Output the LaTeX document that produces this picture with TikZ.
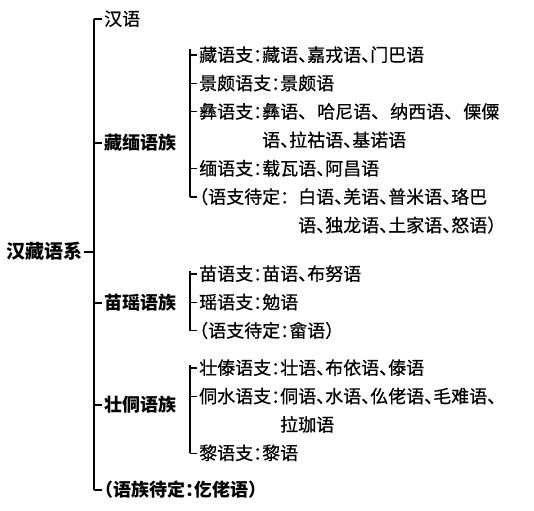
\documentclass[tikz,border=0pt]{standalone}
\usepackage{fontspec}
\newfontfamily\cjk[RawFeature=+halt, FakeBold=0.5]{Noto Sans CJK SC}
\newfontfamily\cjkb[RawFeature=+halt]{Noto Sans CJK SC}
\usetikzlibrary{positioning}

\begin{document}
\begin{tikzpicture}
    [x=1pt, y=-1pt, node distance=10pt,
      every node/.style={inner xsep=2pt, inner ysep=0pt, anchor=west,
        text height=15.5pt, text depth=2.5pt, font=\cjk\fontsize{18}{22}\selectfont},
      family/.style={font=\cjkb\bfseries\fontsize{18}{22}\selectfont},
      root/.style={font=\cjkb\bfseries\fontsize{19}{22}\selectfont},
      under/.style={below=of #1.south west, anchor=north west},
      line/.style={line width=1.1pt}]
    \useasboundingbox (0,0) rectangle (534,510);
    \coordinate (trunk) at (94,0);
    \coordinate (fork) at (190,0);
    % 语系
    \node[root] (xi) at (4,252) {汉藏语系};
    % 语族
    \node (han) at (102,19) {汉语};
    \node[family] (zangmian) at (102,143) {藏缅语族};
    \node[family] (miaoyao) at (102,303) {苗瑶语族};
    \node[family] (zhuangdong) at (102,405) {壮侗语族};
    \node[family] (zudaiding) at (102,490) {（语族待定：仡佬语）};
    % 藏缅语族
    \node (zang) at (197,55) {藏语支：藏语、嘉戎语、门巴语};
    \node[under=zang] (jingpo) {景颇语支：景颇语};
    \node[under=jingpo] (yi) {彝语支：彝语、\hspace{10pt}哈尼语、\hspace{10pt}纳西语、\hspace{10pt}傈僳};
    \node[under=yi] (yi2) {\phantom{彝语支：}语、拉祜语、基诺语};
    \node[under=yi2] (mian) {缅语支：载瓦语、阿昌语};
    \node[under=mian] (zmdaiding) {（语支待定：\hspace{9pt}白语、羌语、普米语、珞巴};
    \node[under=zmdaiding] (zmdaiding2) {\phantom{（语支待定：\hspace{9pt}}语、独龙语、土家语、怒语）};
    % 苗瑶语族
    \node (miao) at (197,274) {苗语支：苗语、布努语};
    \node[under=miao] (yao) {瑶语支：勉语};
    \node[under=yao] (mydaiding) {（语支待定：畲语）};
    % 壮侗语族
    \node (zhuangdai) at (197,368) {壮傣语支：壮语、布依语、傣语};
    \node[under=zhuangdai] (dongshui) {侗水语支：侗语、水语、仫佬语、毛难语、};
    \node[under=dongshui] (dongshui2) {\phantom{侗水语支：}拉珈语};
    \node[under=dongshui2] (li) {黎语支：黎语};
    % 连线
    \draw[line] (xi.east) -- (xi.east -| trunk);
    \draw[line] (han.west -| trunk) -- (zudaiding.west -| trunk);
    \foreach \n in {han,zangmian,miaoyao,zhuangdong,zudaiding}
      \draw[line] (\n.west -| trunk) -- (\n.west);
    \draw[line] ([yshift=6pt]zang.west -| fork) -- (zmdaiding.west -| fork);
    \draw[line] ([yshift=3pt]miao.west -| fork) -- (mydaiding.west -| fork);
    \draw[line] ([yshift=3pt]zhuangdai.west -| fork) -- (li.west -| fork);
    \foreach \n in {zang,jingpo,yi,mian,zmdaiding,miao,yao,mydaiding,zhuangdai,dongshui,li}
      \draw[line] (\n.west -| fork) -- (\n.west);
  \end{tikzpicture}
\end{document}
